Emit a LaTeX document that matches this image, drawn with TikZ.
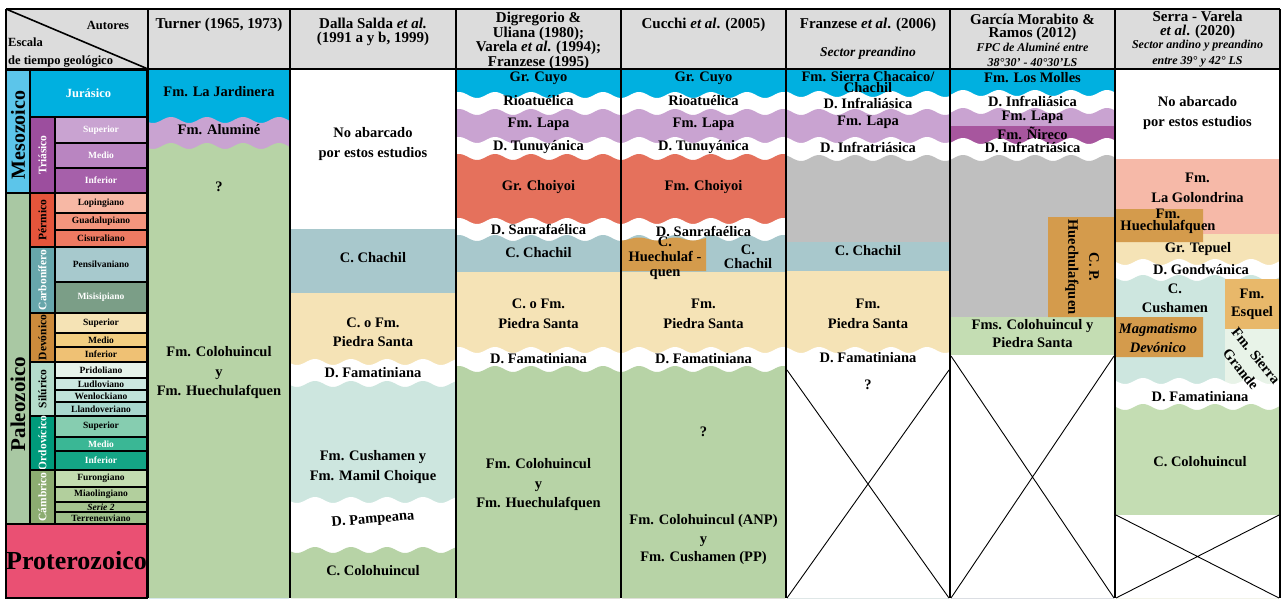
\documentclass[tikz,border=0pt]{standalone}
\usepackage{fontspec}
\setmainfont{Liberation Serif}
\definecolor{hdr}{HTML}{DCDCDC}
\definecolor{jura}{HTML}{00B0E0}
\definecolor{meso}{HTML}{5CC5EA}
\definecolor{tria}{HTML}{9C4E9E}
\definecolor{triaS}{HTML}{C9A3D1}
\definecolor{triaM}{HTML}{B985C1}
\definecolor{triaI}{HTML}{A660AA}
\definecolor{paleo}{HTML}{A9C8A3}
\definecolor{perm}{HTML}{E5553B}
\definecolor{permL}{HTML}{F7B8A5}
\definecolor{permG}{HTML}{F4957D}
\definecolor{permC}{HTML}{EE7A62}
\definecolor{carb}{HTML}{67A6AB}
\definecolor{carbP}{HTML}{A7C9CD}
\definecolor{carbM}{HTML}{7B9E87}
\definecolor{devo}{HTML}{CC8B3C}
\definecolor{devoS}{HTML}{F5E3B5}
\definecolor{devoM}{HTML}{F2CE81}
\definecolor{devoI}{HTML}{EFC174}
\definecolor{silu}{HTML}{B4DCCB}
\definecolor{siluP}{HTML}{E6F3EA}
\definecolor{siluL}{HTML}{CCE8E0}
\definecolor{siluW}{HTML}{C0E3DA}
\definecolor{siluLl}{HTML}{A9D7CE}
\definecolor{ordo}{HTML}{009A7B}
\definecolor{ordoS}{HTML}{86CDB0}
\definecolor{ordoM}{HTML}{3AB795}
\definecolor{ordoI}{HTML}{14A585}
\definecolor{camb}{HTML}{8CAC71}
\definecolor{cambF}{HTML}{C3DDB1}
\definecolor{cambMi}{HTML}{B2CF9D}
\definecolor{cambS}{HTML}{A5C48F}
\definecolor{cambT}{HTML}{9EC08A}
\definecolor{prot}{HTML}{EA5073}
\definecolor{cuyo}{HTML}{00B0E0}
\definecolor{lapa}{HTML}{C9A3D1}
\definecolor{nireco}{HTML}{A7569E}
\definecolor{choiyoi}{HTML}{E5715C}
\definecolor{chachil}{HTML}{A8C8CC}
\definecolor{pstanta}{HTML}{F5E3B6}
\definecolor{cushamen}{HTML}{CDE6DF}
\definecolor{colo}{HTML}{B7D3A6}
\definecolor{coloB}{HTML}{C4DDB3}
\definecolor{huechu}{HTML}{D49B4C}
\definecolor{esquel}{HTML}{E8B86A}
\definecolor{sgrande}{HTML}{E8F3E8}
\definecolor{golond}{HTML}{F6B9A8}
\definecolor{gap}{HTML}{BFBFBF}
\tikzstyle{Unidad}=[font=\bfseries\fontsize{14.5}{19.5}\selectfont, align=center, inner sep=0pt, text=black]
\tikzstyle{Autor}=[font=\bfseries\fontsize{15}{14.6}\selectfont, align=center, inner sep=0pt]
\tikzstyle{Nota}=[font=\bfseries\itshape\fontsize{12}{16}\selectfont, align=center, inner sep=0pt]
\tikzstyle{Celda}=[draw=black, line width=1.2pt, inner sep=0pt, font=\bfseries\fontsize{9.5}{10}\selectfont]
\tikzstyle{Periodo}=[font=\bfseries\fontsize{11.5}{12}\selectfont, rotate=90, inner sep=0pt]
\tikzstyle{Era}=[font=\bfseries\fontsize{20}{20}\selectfont, rotate=90, inner sep=0pt]
\tikzstyle{Borde}=[line width=2.5pt, draw=black]
\tikzstyle{Cruz}=[line width=0.9pt, draw=black]
\newcommand{\capa}[6]{\fill[#4] plot[domain=#1:#2, samples=90, smooth] (\x,{#3+#5*sin(10*\x)}) -- (#2,#6) -- (#1,#6) -- cycle;}
\begin{document}
\begin{tikzpicture}[x=1pt, y=-1pt]
	\useasboundingbox (0,0) rectangle (1284,598);
	\fill[hdr] (6,9) rectangle (1280,69);
	\draw[line width=1.6pt] (6,9) -- (148,69);
	\node[font=\bfseries\fontsize{12.5}{12.5}\selectfont, inner sep=0pt] (autores) at (108,25) {Autores};
	\node[font=\bfseries\fontsize{12.5}{18}\selectfont, align=left, anchor=west, inner sep=0pt] (escala) at (8,53) {Escala\\de tiempo geológico};
	\node[Autor] (turner) at (219,25) {Turner (1965, 1973)};
	\node[Autor] (dalla) at (373,32) {Dalla Salda \textit{et al.}\\(1991 a y b, 1999)};
	\node[Autor] (digregorio) at (538.5,41) {Digregorio \&\\Uliana (1980);\\Varela \textit{et al}. (1994);\\Franzese (1995)};
	\node[Autor] (cucchi) at (703.5,25) {Cucchi \textit{et al}. (2005)};
	\node[Autor] (franzese) at (868,25) {Franzese \textit{et al}. (2006)};
	\node[Nota, font=\bfseries\itshape\fontsize{13.5}{14}\selectfont] (preandino) at (868,53) {Sector preandino};
	\node[Autor, font=\bfseries\fontsize{15}{13}\selectfont] (garcia) at (1032.5,27) {García Morabito \&\\Ramos (2012)};
	\node[Nota, font=\bfseries\itshape\fontsize{12}{15}\selectfont] (fpc) at (1032.5,55) {FPC de Aluminé entre\\38°30' - 40°30'LS};
	\node[Autor] (serra) at (1197.5,25) {Serra - Varela\\\textit{et al}. (2020)};
	\node[Nota] (andino) at (1197.5,54) {Sector andino y preandino\\entre 39° y 42° LS};

	\node[Celda, fill=meso, minimum width=24pt, minimum height=123pt] (mesozoico) at (18,131.5) {};
	\node[Era] at (18,135) {Mesozoico};
	\node[Celda, fill=paleo, minimum width=24pt, minimum height=331pt] (paleozoico) at (18,358.5) {};
	\node[Era, font=\bfseries\fontsize{21}{21}\selectfont] at (18,404) {Paleozoico};
	\node[Celda, fill=prot, minimum width=141pt, minimum height=74pt, font=\bfseries\fontsize{26}{26}\selectfont] (proterozoico) at (76.5,561) {Proterozoico};
	\node[Celda, fill=jura, text=white, minimum width=117pt, minimum height=47pt, font=\bfseries\fontsize{12.5}{13}\selectfont] (jurasico) at (88.5,93.5) {Jurásico};

	\node[Celda, fill=tria, minimum width=25pt, minimum height=76pt] (triasico) at (42.5,155) {};
	\node[Periodo, text=white] at (triasico) {Triásico};
	\node[Celda, fill=triaS, text=white, minimum width=92pt, minimum height=26pt] (triaSup) at (101,130) {Superior};
	\node[Celda, fill=triaM, text=white, minimum width=92pt, minimum height=25pt] (triaMed) at (101,155.5) {Medio};
	\node[Celda, fill=triaI, text=white, minimum width=92pt, minimum height=25pt] (triaInf) at (101,180.5) {Inferior};

	\node[Celda, fill=perm, minimum width=25pt, minimum height=54pt] (permico) at (42.5,220) {};
	\node[Periodo] at (permico) {Pérmico};
	\node[Celda, fill=permL, minimum width=92pt, minimum height=20pt] (lopingiano) at (101,203) {Lopingiano};
	\node[Celda, fill=permG, minimum width=92pt, minimum height=17pt] (guadalupiano) at (101,221.5) {Guadalupiano};
	\node[Celda, fill=permC, minimum width=92pt, minimum height=17pt] (cisuraliano) at (101,238.5) {Cisuraliano};

	\node[Celda, fill=carb, minimum width=25pt, minimum height=66pt] (carbonifero) at (42.5,280) {};
	\node[Periodo, text=white] at (carbonifero) {Carbonífero};
	\node[Celda, fill=carbP, minimum width=92pt, minimum height=35pt] (pensilvaniano) at (101,264.5) {Pensilvaniano};
	\node[Celda, fill=carbM, text=white, minimum width=92pt, minimum height=31pt] (misisipiano) at (101,297.5) {Misisipiano};

	\node[Celda, fill=devo, minimum width=25pt, minimum height=49pt] (devonico) at (42.5,337.5) {};
	\node[Periodo] at (devonico) {Devónico};
	\node[Celda, fill=devoS, minimum width=92pt, minimum height=20pt] (devoSup) at (101,323) {Superior};
	\node[Celda, fill=devoM, minimum width=92pt, minimum height=14pt] (devoMed) at (101,340) {Medio};
	\node[Celda, fill=devoI, minimum width=92pt, minimum height=15pt] (devoInf) at (101,354.5) {Inferior};

	\node[Celda, fill=silu, minimum width=25pt, minimum height=54pt] (silurico) at (42.5,389) {};
	\node[Periodo] at (silurico) {Silúrico};
	\node[Celda, fill=siluP, minimum width=92pt, minimum height=16pt] (pridoliano) at (101,370) {Pridoliano};
	\node[Celda, fill=siluL, minimum width=92pt, minimum height=12pt] (ludloviano) at (101,384) {Ludloviano};
	\node[Celda, fill=siluW, minimum width=92pt, minimum height=12pt] (wenlockiano) at (101,396) {Wenlockiano};
	\node[Celda, fill=siluLl, minimum width=92pt, minimum height=14pt] (llandoveriano) at (101,409) {Llandoveriano};

	\node[Celda, fill=ordo, minimum width=25pt, minimum height=54pt] (ordovicico) at (42.5,443) {};
	\node[Periodo, text=white] at (ordovicico) {Ordovícico};
	\node[Celda, fill=ordoS, minimum width=92pt, minimum height=21pt] (ordoSup) at (101,426.5) {Superior};
	\node[Celda, fill=ordoM, text=white, minimum width=92pt, minimum height=14pt] (ordoMed) at (101,444) {Medio};
	\node[Celda, fill=ordoI, text=white, minimum width=92pt, minimum height=19pt] (ordoInf) at (101,460.5) {Inferior};

	\node[Celda, fill=camb, minimum width=25pt, minimum height=54pt] (cambrico) at (42.5,497) {};
	\node[Periodo, text=white] at (cambrico) {Cámbrico};
	\node[Celda, fill=cambF, minimum width=92pt, minimum height=17pt] (furongiano) at (101,478.5) {Furongiano};
	\node[Celda, fill=cambMi, minimum width=92pt, minimum height=15pt] (miaolingiano) at (101,494.5) {Miaolingiano};
	\node[Celda, fill=cambS, minimum width=92pt, minimum height=10pt] (serie) at (101,507) {\itshape Serie 2};
	\node[Celda, fill=cambT, minimum width=92pt, minimum height=12pt] (terreneuviano) at (101,518) {Terreneuviano};

	\capa{149}{289}{70}{cuyo}{0}{598}
	\capa{149}{289}{120}{lapa}{3}{598}
	\capa{149}{289}{146}{colo}{3}{598}

	\capa{291}{455}{70}{white}{0}{598}
	\capa{291}{455}{229}{chachil}{0}{598}
	\capa{291}{455}{293}{pstanta}{0}{598}
	\capa{291}{455}{362}{white}{3}{598}
	\capa{291}{455}{384}{cushamen}{3}{598}
	\capa{291}{455}{500}{white}{3}{598}
	\capa{291}{455}{550}{colo}{3}{598}

	\foreach \xa/\xb in {457/620,622/785}{
		\capa{\xa}{\xb}{70}{cuyo}{0}{598}
		\capa{\xa}{\xb}{95}{white}{3}{598}
		\capa{\xa}{\xb}{112}{lapa}{3}{598}
		\capa{\xa}{\xb}{140}{white}{3}{598}
		\capa{\xa}{\xb}{157}{choiyoi}{3}{598}
		\capa{\xa}{\xb}{221}{white}{3}{598}
		\capa{\xa}{\xb}{238}{chachil}{3}{598}
		\capa{\xa}{\xb}{272}{pstanta}{0}{598}
		\capa{\xa}{\xb}{350}{white}{3}{598}
		\capa{\xa}{\xb}{369}{colo}{3}{598}
	}
	\capa{622}{706}{239}{huechu}{1.5}{271}

	\capa{787}{949}{70}{cuyo}{0}{598}
	\capa{787}{949}{94}{white}{3}{598}
	\capa{787}{949}{112}{lapa}{3}{598}
	\capa{787}{949}{140}{white}{3}{598}
	\capa{787}{949}{158}{gap}{3}{598}
	\capa{787}{949}{242}{chachil}{0}{598}
	\capa{787}{949}{271}{pstanta}{0}{598}
	\capa{787}{949}{350}{white}{3}{598}

	\capa{951}{1114}{70}{cuyo}{0}{598}
	\capa{951}{1114}{93}{white}{3}{598}
	\capa{951}{1114}{111}{lapa}{3}{598}
	\capa{951}{1114}{126}{nireco}{0}{598}
	\capa{951}{1114}{141}{white}{3}{598}
	\capa{951}{1114}{158}{gap}{3}{598}
	\capa{951}{1114}{317}{coloB}{0}{598}
	\capa{951}{1114}{355}{white}{0}{598}
	\capa{1048}{1114}{217}{huechu}{0}{317}

	\capa{1116}{1279}{70}{white}{0}{598}
	\capa{1116}{1279}{159}{golond}{0}{598}
	\capa{1116}{1279}{234}{pstanta}{0}{598}
	\capa{1116}{1279}{262}{white}{3}{598}
	\capa{1116}{1279}{278}{cushamen}{3}{598}
	\capa{1225}{1279}{279}{esquel}{0}{329}
	\capa{1225}{1279}{329}{sgrande}{0}{390}
	\capa{1116}{1279}{381}{white}{3}{598}
	\capa{1116}{1279}{407}{coloB}{3}{598}
	\capa{1116}{1279}{515}{white}{0}{598}
	\capa{1116}{1203}{209}{huechu}{0}{242}
	\capa{1116}{1203}{317}{huechu}{0}{357}

	\draw[Cruz] (787,370) -- (949,598) (949,370) -- (787,598);
	\draw[Cruz] (951,356) -- (1114,598) (1114,356) -- (951,598);
	\draw[Cruz] (1116,515) -- (1279,598) (1279,515) -- (1116,598);

	\node[Unidad] (jardinera) at (219,92) {Fm. La Jardinera};
	\node[Unidad] (alumine) at (219,130) {Fm. Aluminé};
	\node[Unidad] (dudaT) at (219,187) {?};
	\node[Unidad] (coloT) at (219,373) {Fm. Colohuincul\\y\\Fm. Huechulafquen};

	\node[Unidad] (noAbarcadoD) at (373,144) {No abarcado\\por estos estudios};
	\node[Unidad] (chachilD) at (373,258) {C. Chachil};
	\node[Unidad] (piedraD) at (373,332.5) {C. o Fm.\\Piedra Santa};
	\node[Unidad] (famatD) at (373,373) {D. Famatiniana};
	\node[Unidad] (cushamenD) at (373,467) {Fm. Cushamen y\\Fm. Mamil Choique};
	\node[Unidad, rotate=5] (pampeana) at (373,520) {D. Pampeana};
	\node[Unidad] (coloD) at (373,571) {C. Colohuincul};

	\node[Unidad] (cuyoG) at (538.5,78) {Gr. Cuyo};
	\node[Unidad] (rioG) at (538.5,101) {Rioatuélica};
	\node[Unidad] (lapaG) at (538.5,124) {Fm. Lapa};
	\node[Unidad] (tunuG) at (538.5,147) {D. Tunuyánica};
	\node[Unidad] (choiyoiG) at (538.5,187) {Gr. Choiyoi};
	\node[Unidad] (sanrafG) at (538.5,229) {D. Sanrafaélica};
	\node[Unidad] (chachilG) at (538.5,253) {C. Chachil};
	\node[Unidad] (piedraG) at (538.5,314) {C. o Fm.\\Piedra Santa};
	\node[Unidad] (famatG) at (538.5,359) {D. Famatiniana};
	\node[Unidad] (coloG) at (538.5,485) {Fm. Colohuincul\\y\\Fm. Huechulafquen};

	\node[Unidad] (cuyoC) at (703.5,78) {Gr. Cuyo};
	\node[Unidad] (rioC) at (703.5,101) {Rioatuélica};
	\node[Unidad] (lapaC) at (703.5,124) {Fm. Lapa};
	\node[Unidad] (tunuC) at (703.5,147) {D. Tunuyánica};
	\node[Unidad] (choiyoiC) at (703.5,187) {Fm. Choiyoi};
	\node[Unidad] (sanrafC) at (703.5,231) {D. Sanrafaélica};
	\node[Unidad, font=\bfseries\fontsize{14.5}{15}\selectfont] (huechuC) at (665,258) {C.\\Huechulaf -\\quen};
	\node[Unidad, font=\bfseries\fontsize{14.5}{14}\selectfont] (chachilC) at (748,256.5) {C.\\Chachil};
	\node[Unidad] (piedraC) at (703.5,314) {Fm.\\Piedra Santa};
	\node[Unidad] (famatC) at (703.5,359) {D. Famatiniana};
	\node[Unidad] (dudaC) at (703.5,432) {?};
	\node[Unidad, font=\bfseries\fontsize{14.5}{18.5}\selectfont] (coloC) at (703.5,540) {Fm. Colohuincul (ANP)\\y\\Fm. Cushamen (PP)};

	\node[Unidad, font=\bfseries\fontsize{14.5}{11}\selectfont] (chacaico) at (868,82.5) {Fm. Sierra Chacaico/\\Chachil};
	\node[Unidad] (infraliaF) at (868,103) {D. Infraliásica};
	\node[Unidad] (lapaF) at (868,122) {Fm. Lapa};
	\node[Unidad] (infratriaF) at (868,147) {D. Infratriásica};
	\node[Unidad] (chachilF) at (868,251) {C. Chachil};
	\node[Unidad] (piedraF) at (868,314) {Fm.\\Piedra Santa};
	\node[Unidad] (famatF) at (868,358) {D. Famatiniana};
	\node[Unidad] (dudaF) at (868,385) {?};

	\node[Unidad] (molles) at (1032.5,78) {Fm. Los Molles};
	\node[Unidad] (infraliaM) at (1032.5,101) {D. Infraliásica};
	\node[Unidad] (lapaM) at (1032.5,117) {Fm. Lapa};
	\node[Unidad] (nireco) at (1032.5,133) {Fm. Ñireco};
	\node[Unidad] (infratriaM) at (1032.5,147) {D. Infratriásica};
	\node[Unidad, rotate=-90, font=\bfseries\fontsize{14.5}{21}\selectfont] (huechuM) at (1082,267) {C. P.\\Huechulafquen};
	\node[Unidad, font=\bfseries\fontsize{14.5}{18}\selectfont] (coloM) at (1032.5,334) {Fms. Colohuincul y\\Piedra Santa};

	\node[Unidad, font=\bfseries\fontsize{14.5}{20}\selectfont] (noAbarcadoS) at (1197.5,113) {No abarcado\\por estos estudios};
	\node[Unidad] (golondrina) at (1197.5,188) {Fm.\\La Golondrina};
	\node[Unidad, font=\bfseries\fontsize{14.5}{12}\selectfont] (huechuS) at (1168,221) {Fm.\\Huechulafquen};
	\node[Unidad] (tepuel) at (1198,249) {Gr. Tepuel};
	\node[Unidad] (gondwanica) at (1201,270) {D. Gondwánica};
	\node[Unidad] (cushamenS) at (1175,298.5) {C.\\Cushamen};
	\node[Unidad, font=\bfseries\fontsize{14.5}{18}\selectfont] (esquelS) at (1252,304) {Fm.\\Esquel};
	\node[Unidad, font=\bfseries\itshape\fontsize{14.5}{19}\selectfont] (magmatismo) at (1158,338.5) {Magmatismo\\Devónico};
	\node[Unidad, rotate=-51] (sierraS) at (1256,356) {Fm. Sierra};
	\node[Unidad, rotate=-51] (grandeS) at (1241,369) {Grande};
	\node[Unidad] (famatS) at (1200,397) {D. Famatiniana};
	\node[Unidad] (coloS) at (1200,462) {C. Colohuincul};

	\draw[Borde] (6,9) -- (1280,9);
	\draw[Borde] (6,69) -- (1280,69);
	\foreach \xc in {6,148,290,456,621,786,950,1115,1280}
		\draw[Borde] (\xc,9) -- (\xc,598);
\end{tikzpicture}
\end{document}
